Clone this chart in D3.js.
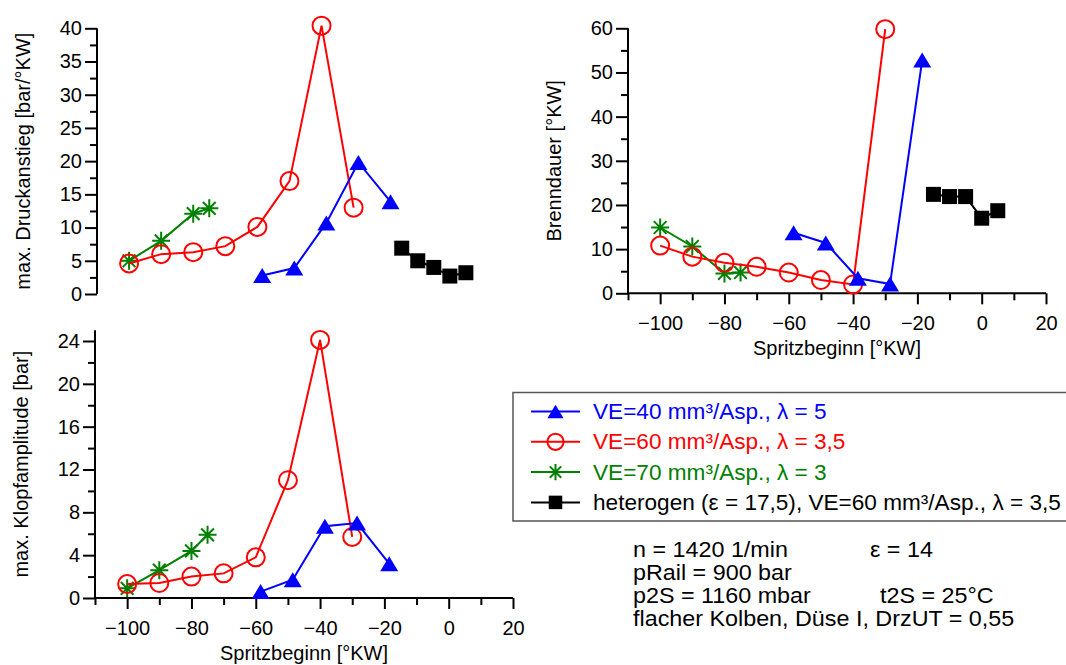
<!DOCTYPE html>
<html>
<head>
<meta charset="utf-8">
<script src="https://cdn.jsdelivr.net/npm/d3@7"></script>
<style>
  body { margin: 0; background: #fff; }
  svg { display: block; font-family: "Liberation Sans", Arial, sans-serif; }
</style>
</head>
<body>
<div id="chart"></div>
<script>
// Spritzbeginn [°KW] per series
const xBlue  = [-58.5, -48.5, -38.5, -28.5, -18.5];
const xRed   = [-100, -90, -80, -70, -60, -50, -40, -30];
const xGreen = [-100, -90, -80, -75];
const xBlack = [-15, -10, -5, 0, 5];

// max. Druckanstieg [bar/°KW]
const druckBlue  = [2.8, 3.9, 10.7, 19.8, 13.9];
const druckRed   = [4.6, 6.0, 6.3, 7.2, 10.1, 17.0, 40.4, 13.0];
const druckGreen = [5.0, 8.0, 12.1, 12.9];
const druckBlack = [6.9, 5.0, 4.0, 2.7, 3.2];

// Brenndauer [°KW]
const brennBlue  = [13.7, 11.4, 3.4, 2.1, 52.8];
const brennRed   = [10.8, 8.3, 6.9, 6.0, 4.7, 3.0, 2.0, 59.8];
const brennGreen = [14.9, 10.6, 4.5, 4.7];
const brennBlack = [22.4, 21.9, 21.9, 17.0, 18.7];

// max. Klopfamplitude [bar]
const klopfBlue  = [0.6, 1.7, 6.7, 7.0, 3.2];
const klopfRed   = [1.3, 1.4, 2.0, 2.3, 3.8, 11.0, 24.1, 5.7];
const klopfGreen = [0.9, 2.6, 4.4, 5.9];

const legendLabels = [
  "VE=40 mm³/Asp., λ = 5",
  "VE=60 mm³/Asp., λ = 3,5",
  "VE=70 mm³/Asp., λ = 3",
  "heterogen (ε = 17,5), VE=60 mm³/Asp., λ = 3,5"
];
const xMajor = [-100, -80, -60, -40, -20, 0, 20];
const xMinor = [-110, -90, -70, -50, -30, -10, 10];

const width = 1066, height = 665;
const FONT = 20;

const svg = d3.select("#chart").append("svg")
  .attr("width", width).attr("height", height);
svg.append("rect").attr("width", width).attr("height", height).attr("fill", "#fff");

const colors = { blue: "#0000ff", red: "#ff0000", green: "#008000", black: "#000000" };

// marker drawers
function marker(g, kind, color, s) {
  if (kind === "tri") {
    const w = 18 * s, h = 15 * s;
    g.append("path").attr("d", `M0,${-h/2}L${w/2},${h/2}L${-w/2},${h/2}Z`).attr("fill", color);
  } else if (kind === "circle") {
    g.append("circle").attr("r", 9 * s).attr("fill", "none").attr("stroke", color).attr("stroke-width", 2);
  } else if (kind === "star") {
    const r = 9 * s, d = r * Math.SQRT1_2;
    g.append("path")
      .attr("d", `M${-r},0L${r},0M0,${-r}L0,${r}M${-d},${-d}L${d},${d}M${-d},${d}L${d},${-d}`)
      .attr("stroke", color).attr("stroke-width", 2).attr("fill", "none");
  } else if (kind === "square") {
    const a = 15 * s;
    g.append("rect").attr("x", -a/2).attr("y", -a/2).attr("width", a).attr("height", a).attr("fill", color);
  }
}

function drawPanel(p) {
  const x = d3.scaleLinear().domain([-110, 20]).range([p.left, p.right]);
  const y = d3.scaleLinear().domain([0, p.yUnit]).range([p.bottom, p.yUnitPx]);
  const top = y(p.yAxisMax);

  // y axis
  const gy = svg.append("g").attr("transform", `translate(${p.left},0)`);
  gy.call(d3.axisLeft(y).tickValues(p.yMajor).tickSize(12).tickSizeOuter(0).tickFormat(d3.format("d")).tickPadding(3));
  gy.append("g").call(d3.axisLeft(y).tickValues(p.yMinor).tickSize(7).tickFormat(""));
  gy.selectAll(".domain").remove();
  gy.append("line").attr("y1", top).attr("y2", p.bottom).attr("stroke", "#000").attr("stroke-width", 2);
  gy.selectAll(".tick line").attr("stroke-width", 2);
  gy.selectAll("text").attr("font-size", FONT).attr("fill", "#000").attr("font-family", null);

  svg.append("text")
    .attr("transform", `translate(${p.left - 67},${(top + p.bottom) / 2}) rotate(-90)`)
    .attr("text-anchor", "middle").attr("font-size", FONT).text(p.yTitle);

  if (p.showX) {
    const gx = svg.append("g").attr("transform", `translate(0,${p.bottom})`);
    gx.call(d3.axisBottom(x).tickValues(xMajor).tickSize(11).tickSizeOuter(0).tickFormat(d3.format("d")).tickPadding(12));
    gx.append("g").call(d3.axisBottom(x).tickValues(xMinor).tickSize(7).tickFormat(""));
    gx.selectAll(".domain").remove();
    gx.append("line").attr("x1", p.left).attr("x2", p.right).attr("stroke", "#000").attr("stroke-width", 2);
    gx.selectAll(".tick line").attr("stroke-width", 2);
    gx.selectAll("text").attr("font-size", FONT).attr("fill", "#000").attr("font-family", null);

    svg.append("text")
      .attr("x", (p.left + p.right) / 2).attr("y", p.bottom + 62)
      .attr("text-anchor", "middle").attr("font-size", FONT).text("Spritzbeginn [°KW]");
  }

  const line = d3.line().x(d => x(d[0])).y(d => y(d[1]));
  p.series.forEach(s => {
    const pts = d3.zip(s.xs, s.ys);
    svg.append("path").datum(pts).attr("d", line)
      .attr("fill", "none").attr("stroke", colors[s.color]).attr("stroke-width", 2);
    pts.forEach(d => {
      const g = svg.append("g").attr("transform", `translate(${x(d[0])},${y(d[1])})`);
      marker(g, s.kind, colors[s.color], 1);
    });
  });
}

drawPanel({
  left: 97, right: 514, bottom: 294, yUnit: 40, yUnitPx: 28.3, yAxisMax: 40,
  yMajor: d3.range(0, 41, 5), yMinor: d3.range(2.5, 40, 5),
  yTitle: "max. Druckanstieg [bar/°KW]", showX: false,
  series: [
    { xs: xGreen, ys: druckGreen, color: "green", kind: "star" },
    { xs: xRed, ys: druckRed, color: "red", kind: "circle" },
    { xs: xBlue, ys: druckBlue, color: "blue", kind: "tri" },
    { xs: xBlack, ys: druckBlack, color: "black", kind: "square" }
  ]
});

drawPanel({
  left: 628, right: 1046, bottom: 293.3, yUnit: 60, yUnitPx: 28.3, yAxisMax: 60,
  yMajor: d3.range(0, 61, 10), yMinor: d3.range(5, 60, 10),
  yTitle: "Brenndauer [°KW]", showX: true,
  series: [
    { xs: xGreen, ys: brennGreen, color: "green", kind: "star" },
    { xs: xRed, ys: brennRed, color: "red", kind: "circle" },
    { xs: xBlue, ys: brennBlue, color: "blue", kind: "tri" },
    { xs: xBlack, ys: brennBlack, color: "black", kind: "square" }
  ]
});

drawPanel({
  left: 95, right: 513, bottom: 598, yUnit: 24, yUnitPx: 341, yAxisMax: 25,
  yMajor: d3.range(0, 25, 4), yMinor: d3.range(2, 25, 4),
  yTitle: "max. Klopfamplitude [bar]", showX: true,
  series: [
    { xs: xGreen, ys: klopfGreen, color: "green", kind: "star" },
    { xs: xRed, ys: klopfRed, color: "red", kind: "circle" },
    { xs: xBlue, ys: klopfBlue, color: "blue", kind: "tri" }
  ]
});

// legend
const legend = svg.append("g");
legend.append("rect").attr("x", 513).attr("y", 392.5).attr("width", 570).attr("height", 128.5)
  .attr("fill", "#fff").attr("stroke", "#555").attr("stroke-width", 1.5);
const legKinds = ["tri", "circle", "star", "square"];
const legColors = ["blue", "red", "green", "black"];
legendLabels.forEach((lab, i) => {
  const cy = 411.5 + i * 30.3;
  legend.append("line").attr("x1", 531).attr("x2", 580).attr("y1", cy).attr("y2", cy)
    .attr("stroke", colors[legColors[i]]).attr("stroke-width", 2);
  const g = legend.append("g").attr("transform", `translate(555.5,${cy})`);
  marker(g, legKinds[i], colors[legColors[i]], 0.9);
  legend.append("text").attr("x", 593).attr("y", cy + 7.5).attr("font-size", 22.6)
    .attr("fill", colors[legColors[i]]).text(lab);
});

// conditions text (slightly wide face, as in the original)
const info = svg.append("g").attr("font-size", 21.5).attr("fill", "#000");
[
  [633, 556.5, "n = 1420 1/min"], [870, 556.5, "ε = 14"],
  [633, 579.5, "pRail = 900 bar"],
  [633, 602.5, "p2S = 1160 mbar"], [880, 602.5, "t2S = 25°C"],
  [633, 625.5, "flacher Kolben, Düse I, DrzUT = 0,55"]
].forEach(t => info.append("text")
  .attr("transform", `translate(${t[0]},${t[1]}) scale(1.085,1)`).text(t[2]));
</script>
</body>
</html>
